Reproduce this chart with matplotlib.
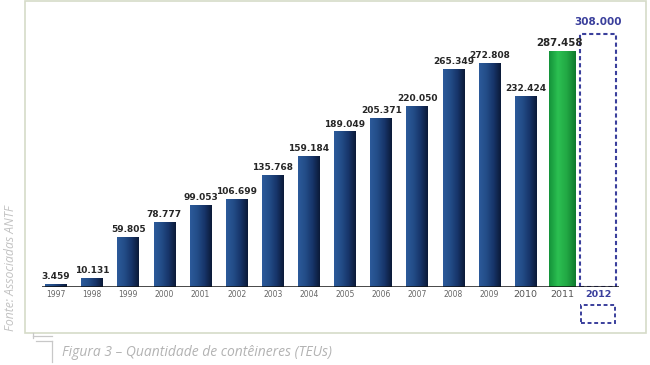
import numpy as np
import matplotlib
matplotlib.use("Agg")
import matplotlib.pyplot as plt
from matplotlib.patches import Rectangle
from matplotlib.colors import LinearSegmentedColormap
from matplotlib.lines import Line2D

years = ["1997", "1998", "1999", "2000", "2001", "2002", "2003", "2004",
         "2005", "2006", "2007", "2008", "2009", "2010", "2011", "2012"]
values = [3459, 10131, 59805, 78777, 99053, 106699, 135768, 159184,
          189049, 205371, 220050, 265349, 272808, 232424, 287458, 308000]
labels = ["3.459", "10.131", "59.805", "78.777", "99.053", "106.699", "135.768",
          "159.184", "189.049", "205.371", "220.050", "265.349", "272.808",
          "232.424", "287.458", "308.000"]

W, H = 650, 365
fig = plt.figure(figsize=(6.5, 3.65), dpi=100)
fig.patch.set_facecolor("white")

base_px = 287
top_px = 5
left_px, right_px = 41.6, 619.5
first_c, last_c = 56.0, 598.0
step = (last_c - first_c) / 15
scale = 0.00082  # px per unit
ax = fig.add_axes([left_px / W, (H - base_px) / H, (right_px - left_px) / W, (base_px - top_px) / H])
ax.set_facecolor("none")
ax.set_ylim(0, (base_px - top_px) / scale)
ax.set_xlim(-(first_c - left_px) / step, 15 + (right_px - last_c) / step)
for s in ax.spines.values():
    s.set_visible(False)
ax.set_yticks([])

blue_cmap = LinearSegmentedColormap.from_list("b", ["#2c5a9a", "#234d88", "#17356a", "#0b1a38"])
green_cmap = LinearSegmentedColormap.from_list("g", ["#14933a", "#2cc052", "#22a844", "#0f7a2d"])
grad = np.linspace(0, 1, 64).reshape(1, -1)

n = len(years)
x = np.arange(n)
for i in range(n - 1):
    v = values[i]
    if i == n - 2:
        w, cmap = 0.72, green_cmap
    else:
        w, cmap = 0.60, blue_cmap
    ax.imshow(grad, extent=[x[i] - w / 2, x[i] + w / 2, 0, v], aspect="auto",
              cmap=cmap, origin="lower", zorder=2, interpolation="bilinear")
    big = i == n - 2
    ax.annotate(labels[i], (x[i], v), xytext=(-1.5 if big else 0, 2.5),
                textcoords="offset points",
                ha="center", va="bottom", fontsize=7.4 if big else 6.5,
                fontweight="bold", color="#262626", zorder=4, family="DejaVu Sans")

blue = "#3a3f9c"
ax.add_patch(Rectangle((x[-1] - 0.5, 0), 1.0, values[-1], fill=False,
                       edgecolor=blue, lw=1.5, ls=(0, (2, 1.4)), zorder=3))
ax.annotate(labels[-1], (x[-1], values[-1]), xytext=(0, 5), textcoords="offset points",
            ha="center", va="bottom", fontsize=7.5, fontweight="bold", color=blue,
            family="DejaVu Sans")
ax.add_patch(Rectangle((x[-1] - 0.47, -43900), 0.94, 21950, fill=False,
                       edgecolor=blue, lw=1.4, ls=(0, (2, 1.4)), clip_on=False, zorder=3))

ax.axhline(0, color="#111111", lw=1.8, zorder=5)

ax.set_xticks(x)
ax.set_xticklabels(years)
ax.tick_params(axis="x", length=0, pad=2.5)
for i, t in enumerate(ax.get_xticklabels()):
    if i >= n - 3:
        t.set_fontsize(6.8)
        t.set_color("#555555")
    else:
        t.set_fontsize(5.5)
        t.set_color("#666666")
    if i == n - 1:
        t.set_color(blue)
        t.set_fontweight("bold")

fig.patches.append(Rectangle((25 / W, (H - 333) / H), (646 - 25) / W, (333 - 1) / H,
                             transform=fig.transFigure, fill=False,
                             edgecolor="#d6dbc8", lw=1.2))
gc = "#c8c8c8"
for (x0, y0, x1, y1) in [(33, 336, 52, 336), (52, 341, 52, 362), (36, 341, 52, 341), (33, 333, 33, 338)]:
    fig.lines.append(Line2D([x0 / W, x1 / W], [(H - y0) / H, (H - y1) / H],
                            transform=fig.transFigure, color=gc, lw=0.9))

fig.text(62 / W, (H - 352) / H, "Figura 3 \u2013 Quantidade de contêineres (TEUs)",
         fontsize=10, style="italic", color="#b3b3b3", va="center", ha="left",
         family="Open Sans")
fig.text(11 / W, (H - 331) / H, "Fonte: Associadas ANTF", rotation=90,
         fontsize=8.8, style="italic", color="#c2c2c2", va="bottom", ha="center",
         family="Open Sans")

fig.savefig("out.png", dpi=100)
